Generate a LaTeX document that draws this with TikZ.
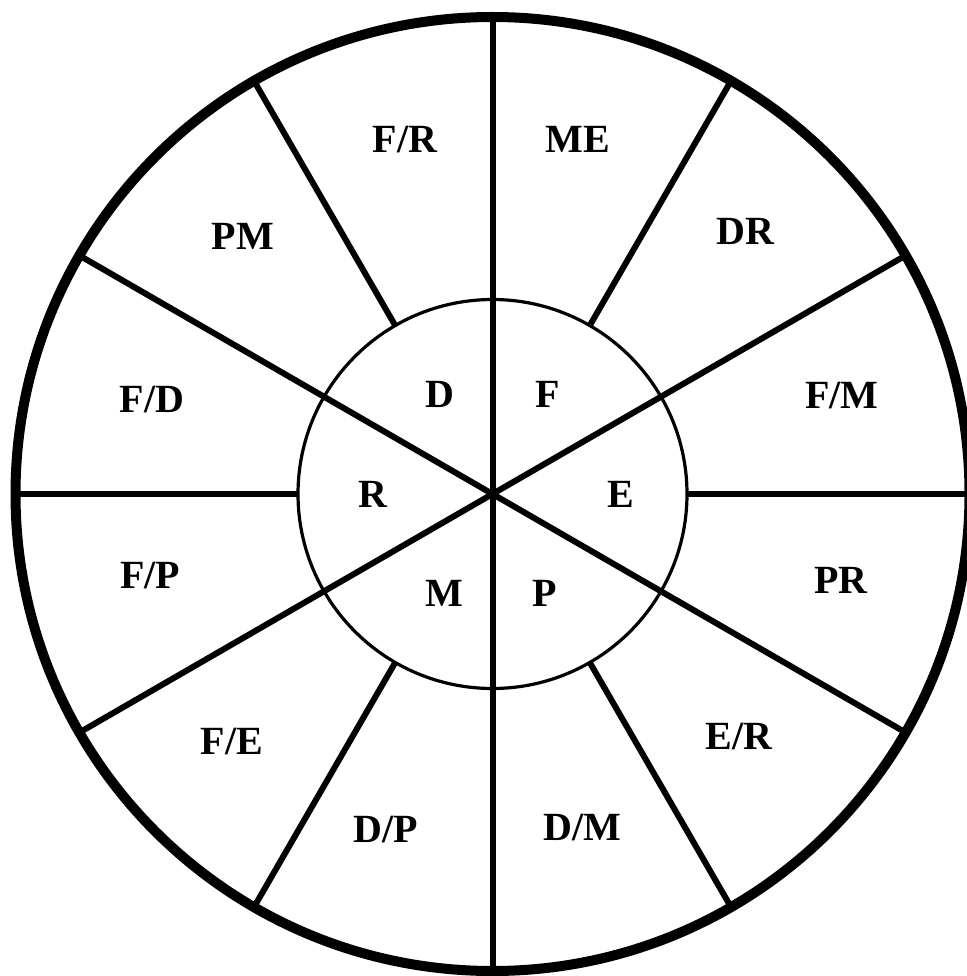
\documentclass[tikz,border=0pt]{standalone}
\usepackage{fontspec}
\setmainfont{Liberation Serif}
\usetikzlibrary{calc}
\begin{document}
\begin{tikzpicture}[x=1pt,y=-1pt,
  lbl/.style={font=\bfseries\fontsize{40}{46}\selectfont, anchor=base, inner sep=0pt},
  spoke/.style={line width=6pt},
  ring/.style={line width=3.2pt},
  rim/.style={line width=10pt}]
\useasboundingbox (0,0) rectangle (966,976);
\fill[white] (0,0) rectangle (966,976);
\coordinate (c) at (492.5,494);
% spokes through the centre
\foreach \a in {90,30,150} {
  \draw[spoke] ($(c)+(\a:477)$) -- ($(c)+(\a+180:477)$);
}
% spokes only outside the inner circle
\foreach \a in {0,180,60,120,240,300} {
  \draw[spoke] ($(c)+(\a:195)$) -- ($(c)+(\a:477)$);
}
\draw[ring] (c) circle[radius=194.5];
\draw[rim] (c) circle[radius=477];
% outer labels
\node[lbl] (fr) at (405,153) {F/R};
\node[lbl] (me) at (578,153) {ME};
\node[lbl] (dr) at (745,244) {DR};
\node[lbl] (fm) at (842,408) {F/M};
\node[lbl] (pr) at (841,593) {PR};
\node[lbl] (er) at (739,749) {E/R};
\node[lbl] (dm) at (582,840) {D/M};
\node[lbl] (dp) at (386,842) {D/P};
\node[lbl] (fe) at (232,754) {F/E};
\node[lbl] (fp) at (150,588) {F/P};
\node[lbl] (fd) at (152,412) {F/D};
\node[lbl] (pm) at (243,250) {PM};
% inner labels
\node[lbl] (d) at (440,407) {D};
\node[lbl] (f) at (548,407) {F};
\node[lbl] (r) at (373,507) {R};
\node[lbl] (e) at (621,507) {E};
\node[lbl] (m) at (444,606) {M};
\node[lbl] (p) at (545,606) {P};
\end{tikzpicture}
\end{document}
